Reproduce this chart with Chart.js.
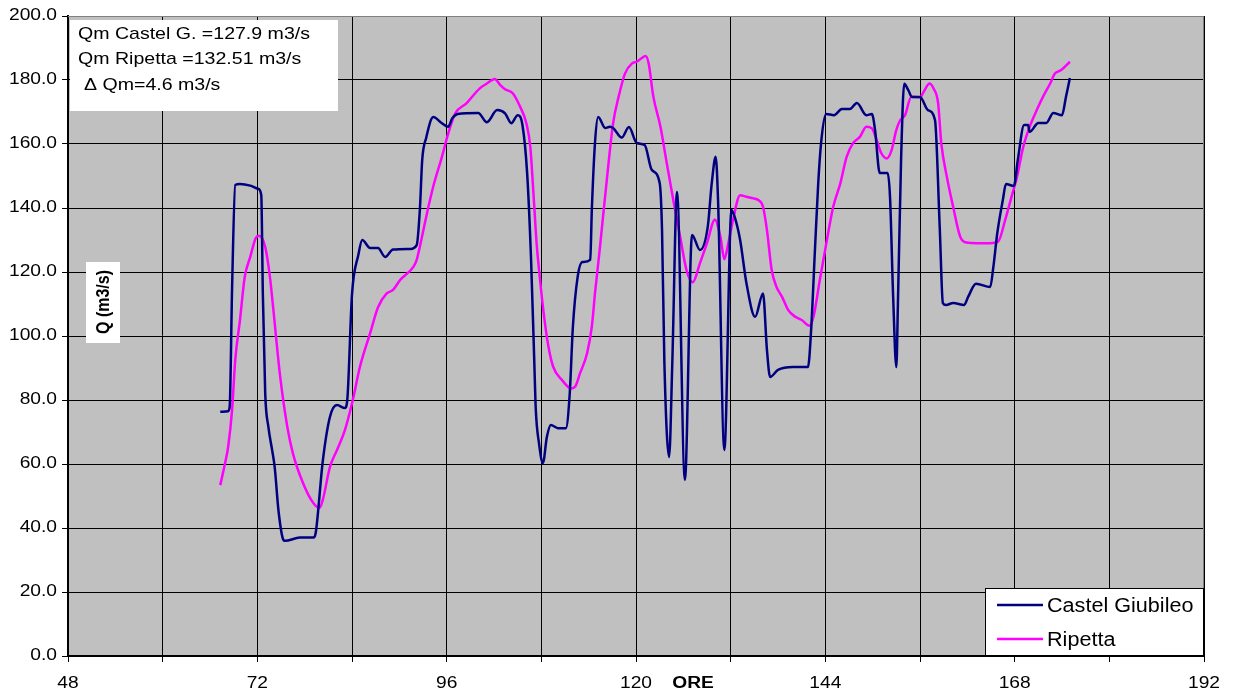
<!DOCTYPE html>
<html><head><meta charset="utf-8">
<script src="https://cdn.jsdelivr.net/npm/chart.js@4"></script>
<style>html,body{margin:0;padding:0;background:#fff;}#wrap{width:1235px;height:700px;position:relative;}</style>
</head><body><div id="wrap"><canvas id="c" width="1235" height="700"></canvas></div>
<script>
// ---- data (hours, discharge m3/s) ----
const castelHours = [67.3,68.3,68.5,68.8,69.2,69.8,71.1,72.1,72.5,72.7,73.0,73.4,73.9,74.2,74.7,75.3,75.5,77.4,79.1,79.4,
  80.3,81.2,82.1,83.1,83.4,84.0,84.8,85.3,86.3,87.3,88.2,89.2,91.4,92.2,92.6,92.9,93.4,94.3,95.4,96.2,
  96.7,97.4,100.0,101.1,102.4,103.4,104.2,105.0,105.6,106.2,106.7,107.1,107.3,107.7,108.2,108.7,109.2,110.1,111.1,111.6,
  112.0,112.6,113.2,114.2,114.4,114.8,115.2,116.1,116.7,117.1,118.2,119.1,120.1,121.1,122.0,123.0,123.3,123.6,124.2,124.6,
  125.2,126.2,127.1,128.1,129.1,129.6,130.1,130.4,131.2,132.1,132.5,133.2,134.0,135.1,136.1,136.6,137.0,138.0,139.9,141.8,
  142.2,142.7,143.1,143.5,144.1,145.1,146.1,147.1,148.0,149.2,149.9,150.3,150.9,151.9,152.2,152.6,153.0,153.2,153.6,154.0,
  154.5,155.0,156.0,157.0,157.9,158.5,158.9,159.3,160.2,161.6,162.1,163.1,164.9,165.3,165.8,166.5,166.9,167.9,168.4,169.2,
  169.7,169.9,171.0,172.0,172.9,174.0,174.5,175.0];
const castelQ = [76.3,76.5,78,115,147.2,147.5,147,146,144,113,82,71.6,64,59,45,36.3,36,37,37,38.5,
  61,74.7,78.4,77.5,80,113,125.3,130,127.5,127.5,124.7,127,127.2,128.4,139.4,155,161.9,168.4,166.5,165.4,
  168,169.4,169.7,166.8,170.6,169.6,166.5,169,166,150.9,123.8,92.5,76.9,66.5,60.3,68.4,72.2,71.2,71.2,82,
  102.9,118.4,123.1,123.8,139.4,160.3,168.4,165,165.4,165,162,165.3,160.3,159.7,151.9,147.8,133,91.5,62.2,91.5,
  145,55,131.6,126.9,134.2,147.7,156,142.5,64.4,139.4,137.3,130,116.5,106,113.3,95.6,87.2,89.4,90.3,90.3,
  101.9,127.8,147.8,161.3,169.4,169,170.9,170.9,172.8,169,169.4,164.4,150.9,150.9,143.4,112,90.3,110,155,178.8,
  176.9,174.7,174.7,170.6,167.5,134,110.3,109.7,110.3,109.7,112.2,116.3,115.3,121.6,132.2,142.5,147.5,146.9,155,165.9,
  165.9,163.8,166.6,166.6,169.7,169,174.7,180.6];

const ripettaHours = [67.3,68.0,68.3,68.8,69.2,69.8,70.4,71.1,71.8,72.2,73.0,73.6,74.0,74.9,75.8,76.5,77.8,79.1,79.9,80.3,
  81.2,82.1,83.1,84.1,85.0,86.3,87.3,88.4,89.2,90.1,91.8,92.2,92.6,93.5,94.3,95.4,96.2,97.1,98.5,100.2,
  101.1,102.1,102.8,103.4,104.4,105.3,106.1,106.6,107.0,107.4,107.8,108.3,108.9,109.5,110.6,111.8,112.3,112.9,113.8,114.4,
  114.8,115.4,116.3,117.1,117.8,118.6,119.5,120.1,120.7,121.2,121.6,122.2,123.1,123.9,124.8,125.6,126.4,127.2,128.1,129.0,
  130.0,130.7,131.2,131.7,132.3,133.2,134.0,134.9,135.5,136.1,136.6,137.2,137.8,138.5,139.3,140.2,141.0,142.0,142.5,143.3,
  144.2,145.0,145.9,146.7,147.5,148.4,149.2,149.9,150.5,151.1,151.8,152.4,153.0,153.5,154.1,154.9,156.0,156.6,157.2,157.7,
  158.3,158.7,159.4,160.2,161.1,161.9,163.2,164.9,165.9,166.8,167.6,168.3,169.1,169.9,170.8,171.6,172.5,173.1,173.9,175.0];
const ripettaQ = [53.4,61.3,65.3,76.9,92.5,105,118.4,124.7,130.6,131.3,127.8,118.4,109,87.2,71.6,63.4,54,47.8,46.3,48.8,
  59,64.4,70.6,80,90.3,100.9,109,113.3,114.4,117.5,121.7,123.8,127.9,138.3,146.7,156,163.3,169.6,172.7,177.4,
  178.9,180.3,178.4,177.1,175.8,171.7,166.5,159.2,144.6,129,118.5,107.1,96.7,90.4,86.3,83.6,84.2,88.3,94.6,102.9,
  113.3,127,148.8,166.5,174.8,182,185.2,185.7,186.8,187.5,185.2,174.8,165.4,154,141.5,131,120.6,116.8,122.7,129,
  136.3,131,124,129,136.3,144,143.5,143,142.5,140.4,133.1,120.6,115.4,112.3,108.1,106,105,103.2,106,117.5,
  130,140.4,147.7,156,160.2,162.3,165.4,164.9,161.3,157.1,155.5,158.1,164.4,167.5,169,174.8,174.6,176.9,178.9,177.4,
  172.7,160.2,149.8,140.4,131,129.2,129,129,129.5,136.3,143.5,149.8,159.2,165.4,170.6,174.8,178.9,182,183.1,185.7];

const seriesNames = ['Castel Giubileo', 'Ripetta'];
const seriesColors = ['#000080', '#FF00FF'];
const noteLines = ['Qm Castel G. =127.9 m3/s', 'Qm Ripetta =132.51 m3/s', '\u0394 Qm=4.6 m3/s'];
const xTitle = 'ORE';
const yTitle = 'Q (m3/s)';
const xMin = 48, xMax = 192, xStep = 12, xLabelStep = 24;
const yMin = 0, yMax = 200, yStep = 20;

const FONT = '"Liberation Sans", Arial, Helvetica, sans-serif';

function toPts(xs, ys) { return xs.map((x, i) => ({x: x, y: ys[i]})); }

function sText(ctx, text, x, y, font, align, sx) {
  ctx.save();
  ctx.font = font;
  ctx.fillStyle = '#000';
  ctx.textBaseline = 'middle';
  ctx.textAlign = 'left';
  const w = ctx.measureText(text).width * sx;
  let px = x;
  if (align === 'center') px = x - w / 2;
  else if (align === 'right') px = x - w;
  ctx.translate(px, y);
  ctx.scale(sx, 1);
  ctx.fillText(text, 0, 0);
  ctx.restore();
}

const bgPlugin = {
  id: 'bg',
  beforeDraw(chart) {
    const {ctx, chartArea: a} = chart;
    ctx.save();
    ctx.fillStyle = '#fff';
    ctx.fillRect(0, 0, chart.width, chart.height);
    ctx.fillStyle = '#C0C0C0';
    ctx.fillRect(a.left, a.top, a.right - a.left, a.bottom - a.top);
    ctx.restore();
  }
};

const overlayPlugin = {
  id: 'overlay',
  afterDraw(chart) {
    const {ctx, chartArea: a} = chart;
    const xs = chart.scales.x, ys = chart.scales.y;
    ctx.save();
    // top/right border of plot
    ctx.strokeStyle = '#808080';
    ctx.lineWidth = 1;
    ctx.beginPath();
    ctx.moveTo(a.left, a.top + 0.5); ctx.lineTo(a.right, a.top + 0.5);
    ctx.moveTo(a.right - 0.5, a.top); ctx.lineTo(a.right - 0.5, a.bottom);
    ctx.stroke();

    // tick labels (drawn from the scales' own ticks, horizontally stretched like the original)
    const tf = '16px ' + FONT;
    xs.ticks.forEach(t => {
      if (t.value % xLabelStep === 0) sText(ctx, String(t.value), xs.getPixelForValue(t.value), 684, tf, 'center', 1.2);
    });
    ys.ticks.forEach(t => {
      sText(ctx, Number(t.value).toFixed(1), a.left - 11, ys.getPixelForValue(t.value), tf, 'right', 1.2);
    });

    // note box
    ctx.fillStyle = '#fff';
    ctx.fillRect(a.left + 2, a.top + 4, 268, 91);
    const f = '17px ' + FONT;
    sText(ctx, noteLines[0], a.left + 10, a.top + 18, f, 'left', 1.15);
    sText(ctx, noteLines[1], a.left + 10, a.top + 43, f, 'left', 1.15);
    sText(ctx, noteLines[2], a.left + 16, a.top + 69, f, 'left', 1.15);

    // y title
    ctx.fillStyle = '#fff';
    ctx.fillRect(86, 262, 34, 81);
    ctx.save();
    ctx.translate(104, 302);
    ctx.rotate(-Math.PI / 2);
    ctx.scale(1, 1.2);
    ctx.font = 'bold 16px ' + FONT;
    ctx.fillStyle = '#000';
    ctx.textAlign = 'center';
    ctx.textBaseline = 'middle';
    ctx.fillText(yTitle, 0, 0);
    ctx.restore();

    // x title
    sText(ctx, xTitle, 693, 684, 'bold 16px ' + FONT, 'center', 1.2);

    // legend
    const lx = 985, ly = 588, lw = a.right - lx, lh = a.bottom - ly;
    ctx.fillStyle = '#fff';
    ctx.fillRect(lx, ly, lw, lh);
    ctx.strokeStyle = '#000';
    ctx.lineWidth = 1;
    ctx.strokeRect(lx + 0.5, ly + 0.5, lw - 1, lh - 1);
    const rows = [605, 639];
    for (let i = 0; i < 2; i++) {
      ctx.strokeStyle = seriesColors[i];
      ctx.lineWidth = 2.5;
      ctx.beginPath();
      ctx.moveTo(997, rows[i]); ctx.lineTo(1043, rows[i]);
      ctx.stroke();
      sText(ctx, seriesNames[i], 1047, rows[i] + 1, '20px ' + FONT, 'left', 1.08);
    }
    ctx.restore();
  }
};

new Chart(document.getElementById('c'), {
  type: 'line',
  data: {
    datasets: [
      {label: seriesNames[0], data: toPts(castelHours, castelQ), borderColor: seriesColors[0],
       borderWidth: 2.5, pointRadius: 0, cubicInterpolationMode: 'monotone', fill: false},
      {label: seriesNames[1], data: toPts(ripettaHours, ripettaQ), borderColor: seriesColors[1],
       borderWidth: 2.5, pointRadius: 0, cubicInterpolationMode: 'monotone', fill: false}
    ]
  },
  options: {
    responsive: false,
    animation: false,
    devicePixelRatio: 1,
    layout: {padding: {top: 16, right: 31, left: 0, bottom: 0}},
    plugins: {legend: {display: false}, tooltip: {enabled: false}},
    scales: {
      x: {
        type: 'linear', min: xMin, max: xMax,
        afterFit(s) { s.height = 44; },
        ticks: {stepSize: xStep, autoSkip: false, maxRotation: 0, color: 'rgba(0,0,0,0)', padding: 10,
          font: {family: FONT, size: 16},
          callback: v => (v % xLabelStep === 0 ? String(v) : '')},
        grid: {color: '#000', lineWidth: 1, tickLength: 6, drawTicks: true},
        border: {color: '#000', width: 2}
      },
      y: {
        min: yMin, max: yMax,
        afterFit(s) { s.width = 68; },
        ticks: {stepSize: yStep, color: 'rgba(0,0,0,0)', padding: 6, font: {family: FONT, size: 16},
          callback: v => Number(v).toFixed(1)},
        grid: {color: '#000', lineWidth: 1, tickLength: 6, drawTicks: true},
        border: {color: '#000', width: 2}
      }
    }
  },
  plugins: [bgPlugin, overlayPlugin]
});
</script></body></html>
